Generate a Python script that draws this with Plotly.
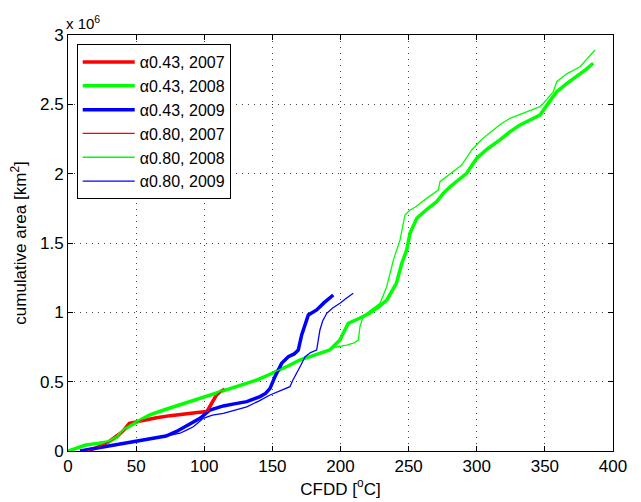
import plotly.graph_objects as go

# ---- data (cumulative area in units of 1e6 km^2) ----
red_a043_x = [13, 20, 30, 35, 40, 45, 50, 55, 65, 75, 87, 95, 102, 105.5, 109, 112, 115]
red_a043_y = [0, 0.02, 0.067, 0.10, 0.14, 0.20, 0.21, 0.224, 0.24, 0.255, 0.272, 0.278, 0.285, 0.344, 0.404, 0.43, 0.445]

green_a043_x = [0, 6, 13, 22, 30, 36, 41, 46, 51, 60, 72, 87, 100, 115, 127, 138.5, 147, 155.6, 163, 170,
                181, 192, 199.6, 205.7, 214.3, 221.7, 228, 234, 241, 245, 248.6, 251, 256, 263, 270.6, 275.4,
                280.4, 286, 292.6, 300, 308, 317, 324, 331.7, 339, 346.4, 352.5, 358.7, 366, 373.4, 380, 385.5]
green_a043_y = [0, 0.019, 0.043, 0.055, 0.067, 0.10, 0.151, 0.185, 0.211, 0.26, 0.301, 0.348, 0.39, 0.44, 0.475,
                0.512, 0.548, 0.584, 0.62, 0.656, 0.69, 0.728, 0.80, 0.921, 0.959, 0.995, 1.04, 1.089, 1.209,
                1.354, 1.45, 1.57, 1.678, 1.74, 1.798, 1.858, 1.906, 1.95, 2.003, 2.111, 2.18, 2.243, 2.30,
                2.351, 2.39, 2.423, 2.507, 2.591, 2.65, 2.699, 2.75, 2.796]

blue_a043_x = [8.8, 15, 23, 35, 47.5, 60, 71.9, 79.3, 85.4, 91, 96.9, 104.2, 109, 114, 122, 131.2, 140.9, 145,
               148.3, 151.9, 156.8, 161.7, 166, 169, 171.5, 174, 176.4, 182.5, 188, 194.7]
blue_a043_y = [0, 0.01, 0.027, 0.045, 0.067, 0.088, 0.108, 0.139, 0.175, 0.205, 0.236, 0.296, 0.31, 0.325, 0.34,
               0.356, 0.392, 0.415, 0.452, 0.536, 0.632, 0.68, 0.70, 0.728, 0.837, 0.92, 0.981, 1.017, 1.07, 1.125]

red_a080_x = [13.5, 20.5, 30.5, 35.5, 40.5, 45.5, 50.5, 55.5, 65.5, 75.5, 87.5, 95.5, 102.5, 106, 109.5, 112.5, 115.5]
red_a080_y = [0, 0.02, 0.067, 0.10, 0.14, 0.20, 0.21, 0.224, 0.24, 0.255, 0.272, 0.278, 0.285, 0.344, 0.404, 0.43, 0.445]

green_a080_x = [0, 6, 13, 22, 30, 36, 41, 46, 51, 60, 72, 87, 100, 115, 127, 138.5, 147, 155.6, 163, 170, 180,
                189.9, 197, 204.5, 210, 213.1, 214.3, 216, 219.2, 224, 229, 233.9, 238.8, 243.7, 247.3, 251, 255,
                263, 271.8, 273, 281, 288.9, 296.3, 304, 312.1, 318, 324.4, 335, 346.4, 351, 356.2, 358.7, 366,
                375.8, 381, 386.8]
green_a080_y = [0, 0.022, 0.045, 0.06, 0.07, 0.105, 0.155, 0.19, 0.215, 0.262, 0.303, 0.35, 0.392, 0.442, 0.478,
                0.515, 0.55, 0.586, 0.622, 0.658, 0.695, 0.728, 0.75, 0.764, 0.78, 0.80, 0.896, 0.95, 0.993, 1.03,
                1.065, 1.185, 1.377, 1.522, 1.702, 1.738, 1.76, 1.82, 1.882, 1.942, 2.0, 2.062, 2.171, 2.25,
                2.315, 2.36, 2.399, 2.44, 2.483, 2.53, 2.591, 2.663, 2.72, 2.771, 2.83, 2.892]

blue_a080_x = [8.8, 15, 23, 35, 47.5, 60, 71.9, 78, 82.2, 87, 92, 99.3, 106, 114, 122, 131.2, 140, 148.3, 156,
               162.9, 165, 167.9, 170.3, 174, 178, 182.5, 184.9, 187, 189.9, 194, 199.6, 204, 209.4]
blue_a080_y = [0, 0.01, 0.027, 0.045, 0.067, 0.088, 0.108, 0.118, 0.128, 0.15, 0.175, 0.236, 0.258, 0.272, 0.295,
               0.319, 0.36, 0.404, 0.435, 0.464, 0.51, 0.56, 0.608, 0.68, 0.71, 0.728, 0.873, 0.94, 0.993, 1.03,
               1.065, 1.10, 1.137]

x_ticks = [0, 50, 100, 150, 200, 250, 300, 350, 400]
y_ticks = [0, 0.5, 1, 1.5, 2, 2.5, 3]
y_tick_labels = ["0", "0.5", "1", "1.5", "2", "2.5", "3"]

series = [
    ("α0.43, 2007", red_a043_x, red_a043_y, "#FF0000", 3.5),
    ("α0.43, 2008", green_a043_x, green_a043_y, "#00FF00", 3.5),
    ("α0.43, 2009", blue_a043_x, blue_a043_y, "#0000FF", 3.5),
    ("α0.80, 2007", red_a080_x, red_a080_y, "#FF0000", 1.3),
    ("α0.80, 2008", green_a080_x, green_a080_y, "#00FF00", 1.3),
    ("α0.80, 2009", blue_a080_x, blue_a080_y, "#0000FF", 1.3),
]

FONT = "Liberation Sans, Arial, Helvetica, sans-serif"
FS = 17

fig = go.Figure()
for name, xs, ys, col, w in series:
    fig.add_trace(go.Scatter(x=xs, y=ys, mode="lines", name=name,
                             line=dict(color=col, width=w)))

axis_common = dict(
    showline=True, linecolor="black", linewidth=1, mirror="allticks",
    ticks="inside", ticklen=5, tickcolor="black",
    showgrid=True, gridcolor="#444444", gridwidth=1, griddash="1px,5px",
    zeroline=False, tickfont=dict(family=FONT, size=FS, color="black"),
    automargin=False,
)

fig.update_xaxes(range=[0, 400], tickvals=x_ticks,
                 title=dict(text="CFDD [<sup>o</sup>C]", font=dict(family=FONT, size=FS, color="black"),
                            standoff=4),
                 **axis_common)
fig.update_yaxes(range=[0, 3], tickvals=y_ticks, ticktext=y_tick_labels,
                 title=dict(text="cumulative area [km<sup>2</sup>]",
                            font=dict(family=FONT, size=FS, color="black"), standoff=10),
                 **axis_common)

fig.add_annotation(x=0, y=1, xref="paper", yref="paper", xanchor="left", yanchor="bottom",
                   text="x 10<sup>6</sup>", showarrow=False, yshift=1, xshift=-4,
                   font=dict(family=FONT, size=15, color="black"))

# the page body adds an 8px offset, so the figure is drawn 8px smaller than the window
fig.update_layout(
    width=633, height=494,
    margin=dict(l=60, r=28, t=27, b=51),
    paper_bgcolor="white", plot_bgcolor="white",
    showlegend=True,
    legend=dict(x=0.016, y=0.978, xanchor="left", yanchor="top",
                bgcolor="white", bordercolor="black", borderwidth=1,
                font=dict(family=FONT, size=16, color="black"),
                itemwidth=52, tracegroupgap=0),
    font=dict(family=FONT),
)

fig.write_html("out.html")
